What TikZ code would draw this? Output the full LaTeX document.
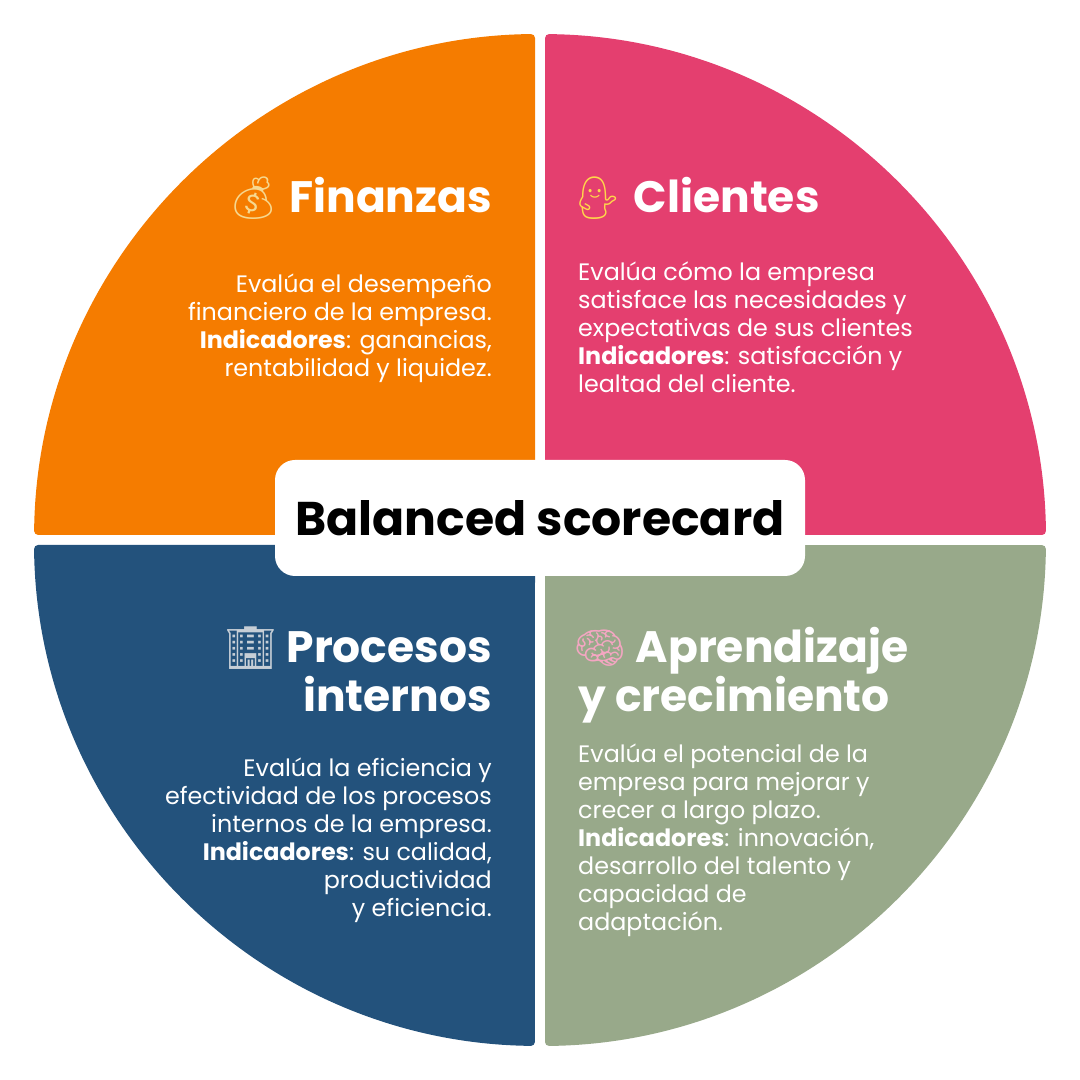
\documentclass[tikz,border=0pt]{standalone}
\usepackage{fontspec}
\setmainfont{Poppins}
\newfontfamily\emojifont{Noto Emoji}
\usetikzlibrary{positioning}
\definecolor{finorange}{HTML}{F57C00}
\definecolor{clipink}{HTML}{E43F6F}
\definecolor{problue}{HTML}{23527C}
\definecolor{apgreen}{HTML}{98A98A}
\definecolor{bagcol}{HTML}{F6D890}
\definecolor{mancol}{HTML}{FFD84A}
\definecolor{bldcol}{HTML}{C6CED6}
\definecolor{braincol}{HTML}{F4A6C2}
\tikzset{%
	quarter/.style = {rounded corners=4pt},
	title/.style   = {text=white, font=\fontsize{44}{49}\selectfont\bfseries, inner sep=0pt},
	body/.style    = {text=white, font=\fontsize{23.8}{28}\selectfont, inner sep=0pt},
	centre/.style  = {fill=white, rounded corners=20pt, minimum width=530pt, minimum height=116pt, inner sep=0pt, font=\fontsize{47.3}{50}\selectfont\bfseries},
}
\newcommand{\emo}[2]{{\color{#1}\fontsize{42}{42}\selectfont\emojifont #2}}

\begin{document}
\begin{tikzpicture}[x=1pt,y=1pt]
		\useasboundingbox (0,0) rectangle (1080,1080);
		% four quarters of the disc
		\fill[finorange,quarter] (535,545) -- (535,1045.98) arc[start angle=90.57,end angle=179.43,radius=506] -- cycle;
		\fill[clipink,quarter] (545,545) -- (1045.98,545) arc[start angle=0.57,end angle=89.43,radius=506] -- cycle;
		\fill[problue,quarter] (535,535) -- (34.02,535) arc[start angle=180.57,end angle=269.43,radius=506] -- cycle;
		\fill[apgreen,quarter] (545,535) -- (545,34.02) arc[start angle=270.57,end angle=359.43,radius=506] -- cycle;
		\node[centre] (bsc) at (540,562) {Balanced scorecard};
		% Finanzas
		\node[title, anchor=base east] (fin) at (492,867) {\emo{bagcol}{💰} Finanzas};
		\node[body, align=right, anchor=north east] (fintxt) at (492,806) {Evalúa el desempeño\\ financiero de la empresa.\\ \textbf{Indicadores}: ganancias,\\ rentabilidad y liquidez.};
		% Clientes
		\node[title, anchor=base west] (cli) at (571,867) {\emo{mancol}{💁‍♂️} Clientes};
		\node[body, align=left, anchor=north west] (clitxt) at (578,818) {Evalúa cómo la empresa\\ satisface las necesidades y\\ expectativas de sus clientes\\ \textbf{Indicadores}: satisfacción y\\ lealtad del cliente.};
		% Procesos internos
		\node[title, align=right, anchor=base east] (pro) at (492,368) {\emo{bldcol}{🏢} Procesos\\ internos};
		\node[body, align=right, anchor=north east] (protxt) at (492,322) {Evalúa la eficiencia y\\ efectividad de los procesos\\ internos de la empresa.\\ \textbf{Indicadores}: su calidad,\\ productividad\hspace*{0.3em}\\ y eficiencia.};
		% Aprendizaje y crecimiento
		\node[title, align=left, anchor=base west] (apr) at (578,368) {\hspace*{-5pt}\emo{braincol}{🧠} Aprendizaje\\ y crecimiento};
		\node[body, align=left, anchor=north west] (aprtxt) at (578,336) {Evalúa el potencial de la\\ empresa para mejorar y\\ crecer a largo plazo.\\ \textbf{Indicadores}: innovación,\\ desarrollo del talento y\\ capacidad de\\ adaptación.};
\end{tikzpicture}
\end{document}
